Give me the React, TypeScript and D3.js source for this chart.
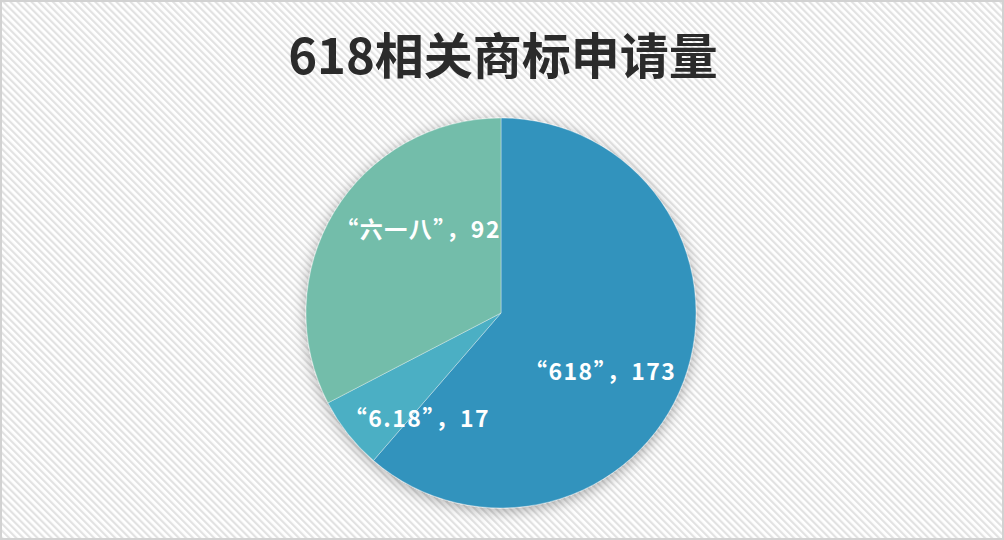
import * as d3 from "d3";

// ── Data ──────────────────────────────────────────────────────
const names  = ["“618”", "“6.18”", "“六一八”"];
const counts = [173, 17, 92];
const colors = ["#3393bd", "#4bafc4", "#73bdaa"];
// label nudges from the label-arc centroid (px)
const nudgeX = [-18, 14, 24];
const nudgeY = [13, 27, -20];

const W = 1004, H = 540;
const CX = 501, CY = 313, R = 195;

export default function App() {
  const idx = d3.range(counts.length);
  const pie = d3.pie<number>().sort(null).value((i) => counts[i]);
  const arcs = pie(idx);
  const arc = d3.arc<d3.PieArcDatum<number>>().innerRadius(0).outerRadius(R);
  const labelArc = d3.arc<d3.PieArcDatum<number>>().innerRadius(125).outerRadius(125);

  return (
    <svg width={W} height={H} style={{ position: "absolute", left: 0, top: 0 }}>
      <defs>
        <pattern id="stripes" width={5} height={5} patternUnits="userSpaceOnUse"
          patternTransform="rotate(-45)">
          <rect width={5} height={5} fill="#ffffff" />
          <rect width={2.2} height={5} fill="#e2e2e2" />
        </pattern>
        <filter id="shadow" x="-20%" y="-20%" width="140%" height="140%">
          <feDropShadow dx={0} dy={3} stdDeviation={7} floodColor="#000" floodOpacity={0.32} />
        </filter>
      </defs>

      <rect width={W} height={H} fill="url(#stripes)" />
      <rect x={1} y={1} width={W - 2} height={H - 2} fill="none" stroke="#d2d2d2" strokeWidth={2} />

      <text x={503} y={52} textAnchor="middle" dominantBaseline="central"
        fontFamily="'Noto Sans CJK SC', sans-serif" fontWeight={700} fontSize={49} fill="#2b2b2b">
        618相关商标申请量
      </text>

      <g transform={`translate(${CX},${CY})`}>
        <g filter="url(#shadow)">
          {arcs.map((a) => (
            <path key={a.data} d={arc(a) ?? ""} fill={colors[a.data]}
              stroke="rgba(255,255,255,0.35)" strokeWidth={1} />
          ))}
        </g>
        {arcs.map((a) => {
          const [lx, ly] = labelArc.centroid(a);
          return (
            <text key={a.data} x={lx + nudgeX[a.data]} y={ly + nudgeY[a.data]}
              textAnchor="middle" dominantBaseline="central" letterSpacing={1.5}
              fontFamily="'Noto Sans CJK SC', sans-serif" fontWeight={700} fontSize={23} fill="#ffffff">
              {names[a.data]}，{counts[a.data]}
            </text>
          );
        })}
      </g>
    </svg>
  );
}
